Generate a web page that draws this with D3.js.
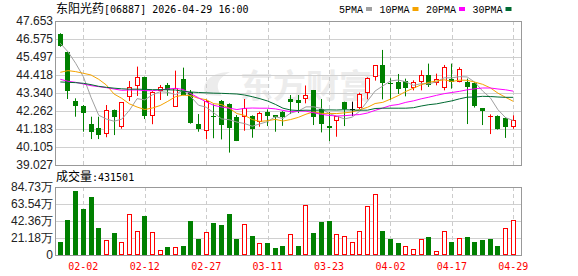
<!DOCTYPE html>
<html>
<head>
<meta charset="utf-8">
<script src="https://cdn.jsdelivr.net/npm/d3@7"></script>
<style>
body { margin: 0; background: #fff; }
svg { display: block; }
</style>
</head>
<body>
<svg width="578" height="276"></svg>
<script>
// trading days shown
var dates = ["01-28","01-29","01-30","02-02","02-03","02-04","02-05","02-06","02-09","02-10",
             "02-11","02-12","02-13","02-16","02-20","02-23","02-24","02-25","02-26","02-27",
             "03-02","03-03","03-04","03-05","03-06","03-09","03-10","03-11","03-12","03-13",
             "03-16","03-17","03-18","03-19","03-20","03-23","03-24","03-25","03-26","03-27",
             "03-30","03-31","04-01","04-02","04-08","04-09","04-10","04-13","04-14","04-15",
             "04-16","04-17","04-20","04-21","04-22","04-23","04-24","04-27","04-28","04-29"];

var open  = [46.87,45.78,42.86,42.56,41.48,41.26,40.87,42.32,41.32,43.12,
             43.76,44.28,41.98,43.46,43.82,42.52,44.18,43.42,41.48,41.06,
             41.97,42.86,42.68,41.92,41.92,41.96,41.62,42.18,42.00,42.22,
             42.98,42.92,43.00,43.52,42.36,41.36,41.66,42.82,42.40,42.42,
             43.32,44.28,45.02,43.95,44.02,44.06,43.66,44.02,44.42,43.92,
             43.62,44.16,44.02,44.02,43.96,42.42,41.94,41.96,41.82,41.32];
var high  = [46.92,45.82,43.02,42.62,41.92,41.92,42.62,42.35,42.78,44.06,
             44.92,44.32,43.45,43.82,43.94,44.68,44.86,43.52,42.08,42.95,
             42.66,42.92,42.72,42.02,42.98,42.00,42.22,42.36,42.02,42.25,
             43.22,43.22,43.79,43.52,42.98,42.20,41.96,42.82,42.82,43.36,
             44.28,45.00,45.92,44.22,44.48,44.20,44.10,44.70,45.10,44.50,
             45.02,45.10,44.88,44.20,44.00,42.42,42.06,42.00,41.88,42.00];
var low   = [46.11,42.98,41.92,41.02,40.58,40.58,40.69,40.82,41.20,42.86,
             43.16,41.78,41.47,42.92,43.17,42.52,43.20,41.50,41.02,40.57,
             40.63,40.56,39.77,40.46,41.08,40.66,41.32,41.36,41.02,41.37,
             42.08,42.14,42.72,41.42,40.98,40.46,40.72,41.36,41.96,42.38,
             42.96,44.08,42.96,42.92,43.28,43.14,43.50,43.50,43.70,43.80,
             43.50,43.60,43.98,41.48,42.47,41.42,40.88,41.15,40.65,41.20];
var close = [46.17,43.48,42.58,42.16,41.02,40.82,42.32,41.92,42.78,43.68,
             44.28,41.98,43.42,43.72,43.52,43.62,43.22,41.53,41.18,42.88,
             41.95,41.42,41.26,40.48,42.42,41.17,42.12,41.96,41.92,41.88,
             42.82,42.72,43.20,41.92,41.46,41.23,41.96,42.38,42.40,43.28,
             44.22,45.00,43.92,43.88,43.57,43.66,43.98,44.42,43.82,44.16,
             44.88,43.98,44.76,43.72,42.56,42.28,41.96,41.18,41.32,41.72];

var volume = [165700,436000,797000,573000,723000,336000,187000,278000,162000,511000,
              299000,486000,287000,62000,100000,96000,112000,424000,199000,287000,
              399000,374000,511000,199000,386000,237000,146000,150000,87000,112000,
              262000,112000,623000,274000,411000,424000,262000,233000,162000,299000,
              611000,760000,299000,199000,150000,108000,71000,195000,224000,46000,
              295000,162000,208000,224000,162000,187000,199000,112000,333000,431501];

var ma5  = [46.32,45.81,45.12,44.32,43.08,42.01,41.78,41.65,41.77,42.30,
            43.00,42.93,43.23,43.42,43.38,43.25,43.50,43.12,42.61,42.49,
            42.15,41.79,41.74,41.60,41.51,41.35,41.49,41.63,41.92,41.81,
            42.14,42.26,42.51,42.51,42.42,42.11,41.95,41.79,41.89,42.25,
            42.85,43.46,43.76,44.06,44.12,44.01,43.80,43.90,43.89,44.01,
            44.25,44.25,44.32,44.30,43.98,43.46,43.06,42.34,41.86,41.69];
var ma10 = [44.58,44.68,44.62,44.52,44.42,44.16,43.82,43.28,43.02,42.69,
            42.50,42.35,42.44,42.59,42.84,43.12,43.21,43.18,43.02,42.94,
            42.70,42.65,42.43,42.11,42.00,41.75,41.64,41.68,41.76,41.66,
            41.75,41.88,42.07,42.21,42.12,42.12,42.11,42.15,42.20,42.34,
            42.48,42.71,42.78,42.97,43.18,43.43,43.63,43.83,43.98,44.06,
            44.13,44.03,44.11,44.10,43.99,43.86,43.65,43.33,43.08,42.84];
var ma20 = [44.16,44.04,43.98,43.88,43.78,43.72,43.66,43.58,43.50,43.52,
            43.52,43.48,43.48,43.52,43.58,43.62,43.55,43.30,43.05,42.81,
            42.60,42.50,42.43,42.35,42.42,42.44,42.43,42.43,42.39,42.30,
            42.22,42.26,42.25,42.16,42.06,42.00,41.96,41.98,42.02,42.05,
            42.14,42.30,42.44,42.59,42.65,42.78,42.87,42.99,43.09,43.20,
            43.30,43.37,43.44,43.53,43.59,43.64,43.64,43.58,43.53,43.45];
var ma30 = [44.00,43.98,43.96,43.92,43.84,43.74,43.68,43.63,43.59,43.57,
            43.57,43.56,43.54,43.54,43.53,43.52,43.44,43.40,43.37,43.35,
            43.33,43.32,43.30,43.28,43.22,43.12,43.00,42.86,42.66,42.43,
            42.32,42.29,42.31,42.30,42.32,42.33,42.32,42.34,42.32,42.31,
            42.31,42.41,42.43,42.43,42.43,42.43,42.46,42.56,42.64,42.69,
            42.78,42.87,42.99,43.09,43.10,43.14,43.13,43.10,43.08,43.08];

var priceTicks = ["39.027","40.105","41.183","42.262","43.340","44.418","45.497","46.575","47.653"];
var volTicks = [0, 211825, 423650, 635475, 847300];
var volTickLabels = ["0","21.18万","42.36万","63.54万","84.73万"];
var xTickDates = ["02-02","02-12","02-27","03-11","03-23","04-02","04-17","04-29"];

var maNames = ["5PMA","10PMA","20PMA","30PMA"];
var maColors = ["#a0a0a0","#f5a300","#ff00ff","#006a32"];
var maSeries = [ma5, ma10, ma20, ma30];

var RED = "#ff0000", GREEN = "#008000";

var svg = d3.select("svg"),
    left = 55, right = 522,
    mainTop = 21, mainBottom = 165,
    volTop = 187, volBottom = 255;

var x = d3.scalePoint().domain(dates).range([60.3, 513.3]);
var y = d3.scaleLinear().domain([+priceTicks[0], +priceTicks[priceTicks.length - 1]]).range([mainBottom, mainTop]);
var yv = d3.scaleLinear().domain([0, volTicks[volTicks.length - 1]]).range([volBottom, volTop]);

function px(v) { return Math.round(v) + 0.5; }

// watermark
svg.append("text")
    .attr("x", 240).attr("y", 98)
    .style("font", "bold 33px 'Noto Sans CJK SC'")
    .style("fill", "#ececec")
    .text("东方财富");
svg.append("path")
    .attr("d", "M206,95 C200,84 210,72 230,72 C218,78 214,86 222,96 Z")
    .style("fill", "#ececec");

// grids
var grid = svg.append("g");
priceTicks.slice(1, -1).forEach(function(t) {
  grid.append("line").attr("x1", left).attr("x2", right)
      .attr("y1", px(y(+t))).attr("y2", px(y(+t)))
      .style("stroke", "#d0d0d0");
});
volTicks.slice(1, -1).forEach(function(t) {
  grid.append("line").attr("x1", left).attr("x2", right)
      .attr("y1", px(yv(t))).attr("y2", px(yv(t)))
      .style("stroke", "#d0d0d0");
});
xTickDates.forEach(function(d) {
  var xx = px(x(d));
  [[mainTop, mainBottom], [volTop, volBottom]].forEach(function(r) {
    grid.append("line").attr("x1", xx).attr("x2", xx)
        .attr("y1", r[0]).attr("y2", r[1])
        .style("stroke", "#cccccc").style("stroke-dasharray", "4,3");
  });
});

// frames
[[mainTop, mainBottom], [volTop, volBottom]].forEach(function(r) {
  svg.append("rect").attr("x", left + 0.5).attr("y", r[0] + 0.5)
     .attr("width", right - left - 1).attr("height", r[1] - r[0])
     .style("fill", "none").style("stroke", "#999");
});

// candles
var candles = svg.append("g");
dates.forEach(function(d, i) {
  var X = Math.round(x(d) - 2.5), cxp = X + 2.5;
  var o = open[i], c = close[i];
  var colour = c > o ? RED : (c < o ? GREEN : "#000");
  var yTop = Math.round(y(Math.max(o, c))), yBot = Math.round(y(Math.min(o, c)));
  var h = Math.max(1, yBot - yTop);
  if (c > o) {
    candles.append("line").attr("x1", cxp).attr("x2", cxp)
        .attr("y1", y(high[i])).attr("y2", yTop).style("stroke", colour);
    candles.append("line").attr("x1", cxp).attr("x2", cxp)
        .attr("y1", yTop + h).attr("y2", y(low[i])).style("stroke", colour);
    if (h > 2) {
      candles.append("rect").attr("x", X + 0.5).attr("y", yTop + 0.5)
          .attr("width", 4).attr("height", h - 1)
          .style("fill", "#fff").style("stroke", colour);
    } else {
      candles.append("rect").attr("x", X).attr("y", yTop).attr("width", 5).attr("height", 1)
          .style("fill", colour);
    }
  } else {
    candles.append("line").attr("x1", cxp).attr("x2", cxp)
        .attr("y1", y(high[i])).attr("y2", y(low[i])).style("stroke", colour);
    candles.append("rect").attr("x", X).attr("y", yTop)
        .attr("width", 5).attr("height", h).style("fill", colour);
  }
});

// moving averages
var line = d3.line()
    .x(function(v, i) { return x(dates[i]); })
    .y(function(v) { return y(v); });
maSeries.forEach(function(s, k) {
  svg.append("path").datum(s).attr("d", line)
     .style("fill", "none").style("stroke", maColors[k]).style("stroke-width", 1);
});

// volume bars, coloured against previous close
var vols = svg.append("g");
dates.forEach(function(d, i) {
  var X = Math.round(x(d) - 2.5);
  var ref = i > 0 ? close[i - 1] : open[i];
  var up = close[i] >= ref;
  var top = Math.round(yv(volume[i]));
  if (up) {
    vols.append("rect").attr("x", X + 0.5).attr("y", top + 0.5)
        .attr("width", 4).attr("height", volBottom - top - 1)
        .style("fill", "#fff").style("stroke", RED);
  } else {
    vols.append("rect").attr("x", X).attr("y", top)
        .attr("width", 5).attr("height", volBottom - top).style("fill", GREEN);
  }
});

// y labels
var labelFont = "12px 'Liberation Sans', Arial, sans-serif";
priceTicks.forEach(function(t) {
  svg.append("text").attr("x", 53).attr("y", y(+t)).attr("dy", "0.36em")
     .attr("text-anchor", "end").style("font", labelFont).style("fill", "#222")
     .text(t);
});
volTicks.forEach(function(t, k) {
  svg.append("text").attr("x", 53).attr("y", yv(t)).attr("dy", "0.36em")
     .attr("text-anchor", "end").style("font", labelFont).style("fill", "#222")
     .text(volTickLabels[k]);
});

// x labels
xTickDates.forEach(function(d) {
  svg.append("text").attr("x", x(d)).attr("y", 270)
     .attr("text-anchor", "middle")
     .style("font", "10px 'DejaVu Sans Mono', monospace").style("fill", RED)
     .text(d);
});

// title
var title = svg.append("text").attr("x", 56).attr("y", 13).style("fill", "#000");
title.append("tspan").style("font", "12px 'Noto Sans CJK SC'").text("东阳光药");
title.append("tspan").style("font", "10px 'DejaVu Sans Mono', monospace").text("[06887] 2026-04-29 16:00");

// volume title
var vt = svg.append("text").attr("x", 56).attr("y", 181).style("fill", "#000");
vt.append("tspan").style("font", "12px 'Noto Sans CJK SC'").text("成交量");
vt.append("tspan").style("font", "10px 'DejaVu Sans Mono', monospace").text(":" + volume[volume.length - 1]);

// legend
var lx = 339;
maNames.forEach(function(n, k) {
  svg.append("text").attr("x", lx).attr("y", 13)
     .style("font", "10px 'Liberation Mono', monospace").style("fill", "#000")
     .text(n);
  lx += n.length * 6 + 3;
  svg.append("rect").attr("x", lx).attr("y", 7).attr("width", 6).attr("height", 4)
     .style("fill", maColors[k]);
  lx += 6 + 7.5;
});
</script>
</body>
</html>
